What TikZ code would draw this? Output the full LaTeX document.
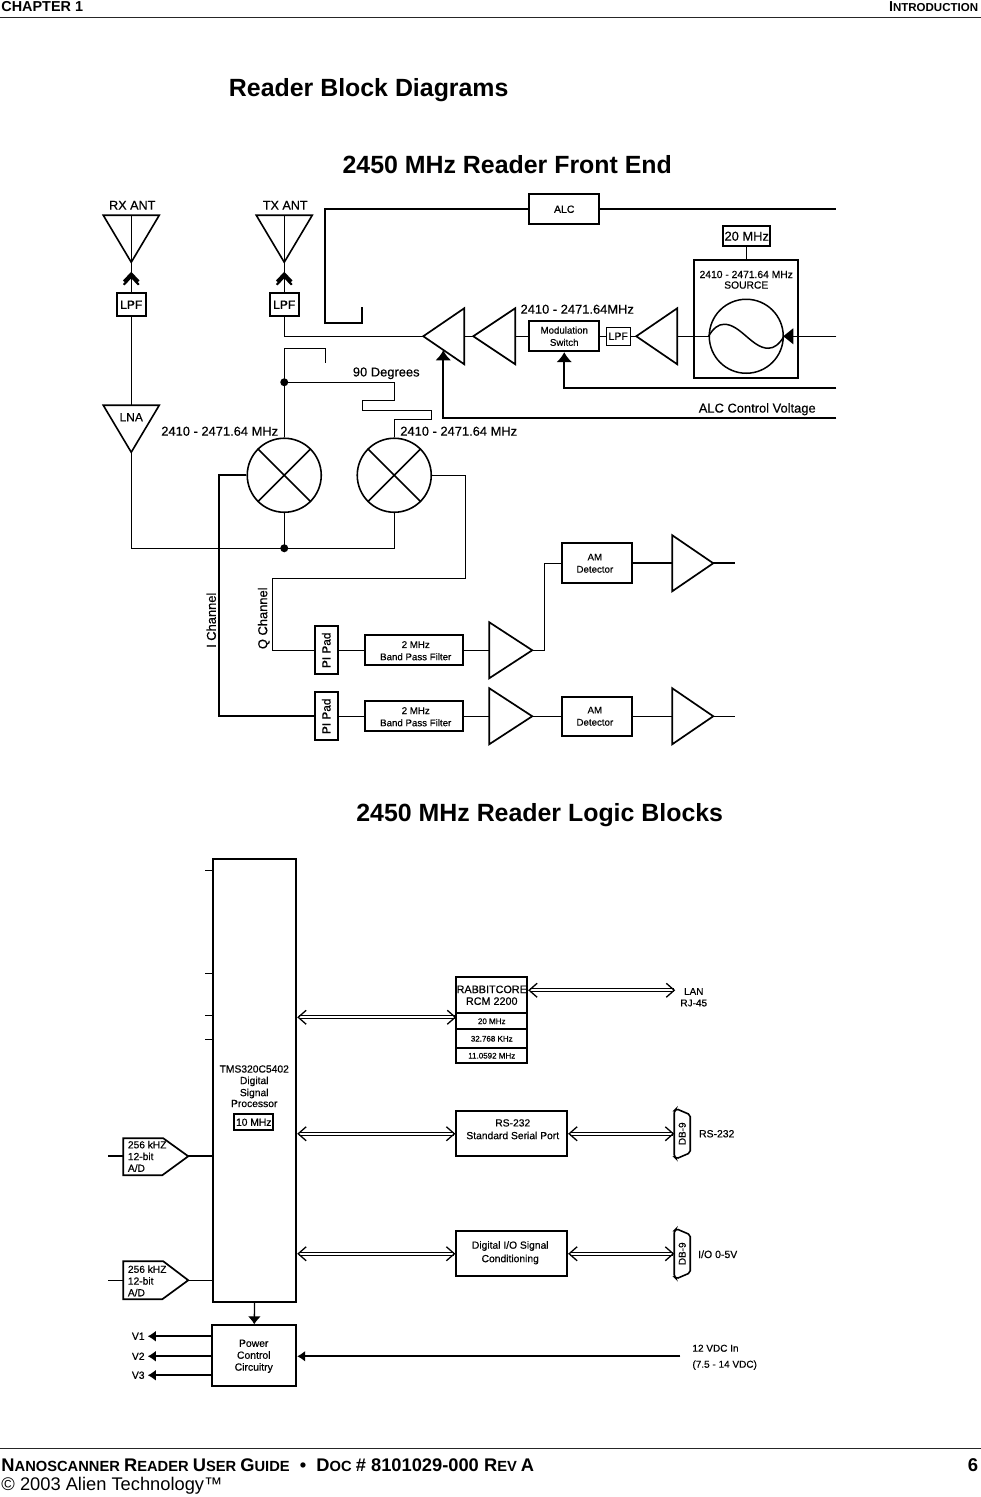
\documentclass[tikz,border=0pt]{standalone}
\usepackage{fontspec}
\setmainfont{Liberation Sans}
\newfontfamily\dg[FakeBold=0.5]{Liberation Sans}
\usetikzlibrary{arrows.meta,calc}
\newcommand{\fs}[1]{\fontsize{#1}{#1}\selectfont}
\tikzset{
  x=1pt,y=-1pt,
  ln/.style={line width=1.3pt,line join=miter},
  lnb/.style={line width=2.4pt,line join=miter},
  box/.style={draw,line width=1.8pt,inner sep=0pt,align=center,font=\dg\fs{9.7}},
  lab/.style={inner sep=0pt,align=center,font=\dg\fs{12.9}},
  sml/.style={inner sep=0pt,align=center,font=\dg\fs{10.3}},
  dot/.style={circle,fill=black,inner sep=0pt,minimum size=8pt},
  mix/.style={circle,draw,line width=1.6pt,inner sep=0pt,minimum size=74pt},
  fhead/.style={-{Latex[length=10pt,width=16pt]}},
  fheadsm/.style={-{Latex[length=8pt,width=11pt]}},
  dbl/.style={double,double distance=2pt,line width=1.1pt,{Straight Barb[length=8pt,width=14pt,line width=1.3pt]}-{Straight Barb[length=8pt,width=14pt,line width=1.3pt]}},
  title/.style={inner sep=0pt,font=\bfseries\fs{24.9}},
}
\newcommand{\ampL}[4]{\coordinate (#1t) at (#2,#3);\coordinate (#1b) at (#4,#3);
  \draw[line width=1.7pt,line join=miter] (#2,#3) -- (#4,#3-28) -- (#4,#3+28) -- cycle;}
\newcommand{\chev}[2]{\draw[line width=2.1pt] (#1-7.5,#2+6) -- (#1,#2-2) -- (#1+7.5,#2+6) (#1-7.5,#2+9.5) -- (#1,#2+1.5) -- (#1+7.5,#2+9.5);}
\newcommand{\dbnine}[3]{\draw[line width=1.6pt,rounded corners=2pt] (#2,#3-23) -- (#2+2,#3-25) -- (#2+16,#3-19) -- (#2+16,#3+19) -- (#2+2,#3+25) -- (#2,#3+23) -- cycle;
  \node[sml,rotate=90,font=\dg\fs{10}] (#1) at (#2+8,#3) {DB-9};\coordinate (#1w) at (#2,#3);}
\begin{document}
\begin{tikzpicture}
\useasboundingbox (0,0) rectangle (981,1497);
\begin{scope}[shift={(.25,.25)}]
% header / footer
\node[anchor=west,inner sep=0pt,font=\bfseries\fs{14.4}] (hl) at (1,6.5) {CHAPTER 1};
\node[anchor=east,inner sep=0pt,font=\bfseries\fs{14.4}] (hr) at (978,6.5) {I\fs{11.5}NTRODUCTION};
\draw[line width=1.2pt,black!85] (0,17) -- (981,17);
\draw[line width=1.2pt,black!85] (0,1448) -- (981,1448);
\node[anchor=west,inner sep=0pt,font=\bfseries\fs{18.3}] (fl) at (1,1465) {N\fs{14.7}ANOSCANNER \fs{18.3}R\fs{14.7}EADER \fs{18.3}U\fs{14.7}SER \fs{18.3}G\fs{14.7}UIDE\fs{18.3}\ \ •\ \ D\fs{14.7}OC \fs{18.3}\# 8101029-000 R\fs{14.7}EV \fs{18.3}A};
\node[anchor=east,inner sep=0pt,font=\bfseries\fs{18.5}] (fn) at (978,1465) {6};
\node[anchor=west,inner sep=0pt,font=\fs{18.3}] (fc) at (1,1485) {© 2003 Alien Technology™};
% titles
\node[title] (t1) at (368.5,90) {Reader Block Diagrams};
\node[title] (t2) at (507,164) {2450 MHz Reader Front End};
\node[title] (t3) at (539.5,815) {2450 MHz Reader Logic Blocks};

% ---- front end: antennas
\node[lab,font=\dg\fs{12.6}] (rxl) at (132,205) {RX ANT};
\node[lab,font=\dg\fs{12.6}] (txl) at (285,205) {TX ANT};
\draw[line width=1.6pt,line join=miter] (103,215) -- (159,215) -- (131,262) -- cycle;
\draw[line width=1.6pt,line join=miter] (256,215) -- (312,215) -- (284,262) -- cycle;
\coordinate (rxt) at (131,215);
\coordinate (txt) at (284,215);
\node[box,minimum width=29pt,minimum height=23pt,font=\dg\fs{12}] (lpf1) at (131,304.5) {LPF};
\node[box,minimum width=29pt,minimum height=23pt,font=\dg\fs{12}] (lpf2) at (284,304.5) {LPF};
\draw[ln] (rxt) -- (lpf1.north);
\draw[ln] (txt) -- (lpf2.north);
\chev{131}{275}
\chev{284}{275}
% LNA
\draw[line width=1.6pt,line join=miter] (103,405) -- (159,405) -- (131,452) -- cycle;
\coordinate (lnat) at (131,405); \coordinate (lnab) at (131,452);
\node[lab,font=\dg\fs{12}] (lnal) at (131,417) {LNA};
\draw[ln] (lpf1.south) -- (lnat);
% amplifiers
\ampL{a1}{423}{336}{464}
\ampL{a2}{473}{336}{515}
\ampL{a3}{636}{336}{677}
% boxes
\node[box,minimum width=70pt,minimum height=30pt,font=\dg\fs{10.5}] (alc) at (564,209) {ALC};
\node[box,minimum width=70pt,minimum height=30pt] (mod) at (564,336) {Modulation\\[2.5pt]Switch};
\node[box,minimum width=24pt,minimum height=18pt,line width=1.1pt,font=\dg\fs{10.5}] (lpf3) at (618,336) {LPF};
\node[box,minimum width=47pt,minimum height=20pt,font=\dg\fs{12.9}] (mhz) at (746.5,236) {20 MHz};
\node[box,minimum width=104pt,minimum height=118pt] (src) at (746,319) {};
\node[sml,font=\dg\fs{10.3}] (srcl) at (746,279.5) {2410 - 2471.64 MHz\\[.3pt]SOURCE};
\node[circle,draw,line width=1.5pt,inner sep=0pt,minimum size=74pt] (osc) at (746,336) {};
\draw[line width=1.5pt] (osc.west) .. controls (713,328) and (718,324) .. (724,324) .. controls (740,324) and (752,348) .. (768,348) .. controls (774,348) and (779,344) .. (osc.east);
\coordinate (r1) at (836,209); \coordinate (r2) at (836,336);
\coordinate (r3) at (836,388); \coordinate (r4) at (836,418);
\draw[lnb] (alc.east) -- (r1);
\draw[lnb] (alc.west) -- (325,209) -- (325,323) -- (362,323) -- (362,307);
\draw[ln] (mhz.south) -- (mhz.south |- src.north);
\draw[ln] (a3b) -- (osc.west);
\draw[ln] (lpf3.east) -- (a3t);
\draw[ln] (mod.east) -- (lpf3.west);
\draw[ln] (a2b) -- (mod.west);
\draw[ln] (a1b) -- (a2t);
\draw[ln] (lpf2.south) |- (a1t);
\draw[ln] (r2) -- (793,336);
\fill (783,336) -- (793,328) -- (793,344) -- cycle;
\draw[lnb,fhead] (r3) -| (mod.south);
\draw[lnb,fhead] (r4) -| (443,350);
\node[lab] at (577,309) {2410 - 2471.64MHz};
\node[lab] at (757,409) {ALC Control Voltage};
% mixers
\node[mix] (m1) at (284,475) {};
\node[mix] (m2) at (394,475) {};
\foreach \m in {m1,m2} \draw[line width=1.6pt] (\m.north west) -- (\m.south east) (\m.north east) -- (\m.south west);
\node[lab] at (219.5,431) {2410 - 2471.64 MHz};
\node[lab] at (458.5,431) {2410 - 2471.64 MHz};
\node[lab] at (386,373) {90 Degrees};
\node[dot] (d1) at (284,382) {};
\node[dot] (d2) at (284,548) {};
\draw[ln] (m1.north) -- (284,348) -- (325,348) -- (325,363);
\draw[ln] (d1.center) -- (394,382) -- (394,400) -- (362,400) -- (362,410) -- (431,410) -- (431,419) -- (394,419) -- (m2.north);
\draw[ln] (lnab) |- (d2.center) -- (394,548) -- (m2.south);
\draw[ln] (m1.south) -- (d2.center);
% lower chain
\node[box,minimum width=23pt,minimum height=48pt,font=\dg\fs{11.8}] (p1) at (326,650) {\rotatebox{90}{PI Pad}};
\node[box,minimum width=23pt,minimum height=48pt,font=\dg\fs{11.8}] (p2) at (326,716) {\rotatebox{90}{PI Pad}};
\node[box,minimum width=98pt,minimum height=30pt] (b1) at (414,650) {};
\node[sml,font=\dg\fs{9.7}] (b1l) at (415.5,650.5) {2 MHz\\[2.5pt]Band Pass Filter};
\node[box,minimum width=98pt,minimum height=30pt] (b2) at (414,716) {};
\node[sml,font=\dg\fs{9.7}] (b2l) at (415.5,716.5) {2 MHz\\[2.5pt]Band Pass Filter};
\ampL{u1}{532}{650}{489}
\ampL{u2}{532}{716}{489}
\node[box,minimum width=70pt,minimum height=40pt,line width=2.4pt] (am1) at (597,563) {};
\node[sml,font=\dg\fs{9.7}] (am1l) at (594.6,563) {AM\\[2.5pt]Detector};
\node[box,minimum width=70pt,minimum height=39pt] (am2) at (597,716) {};
\node[sml,font=\dg\fs{9.7}] (am2l) at (594.6,716) {AM\\[2.5pt]Detector};
\ampL{o1}{713}{563}{672}
\ampL{o2}{713}{716}{672}
\coordinate (e1) at (735,563); \coordinate (e2) at (735,716);
\draw[ln,line width=1.7pt] (m1.west) -- (219,475) |- (p2.west);
\draw[ln] (m2.east) -- (465,475) -- (465,578) -- (272,578) |- (p1.west);
\draw[ln] (p1.east) -- (b1.west);
\draw[ln] (p2.east) -- (b2.west);
\draw[ln] (b1.east) -- (u1b);
\draw[ln] (b2.east) -- (u2b);
\draw[ln] (u1t) -- (544,650) |- (am1.west);
\draw[ln] (u2t) -- (am2.west);
\draw[ln,line width=1.7pt] (am1.east) -- (o1b);
\draw[ln] (am2.east) -- (o2b);
\draw[lnb] (o1t) -- (e1);
\draw[ln] (o2t) -- (e2);
\node[lab,rotate=90] at (211,620) {I Channel};
\node[lab,rotate=90] at (263.5,618) {Q Channel};

% ---- logic
\node[box,minimum width=83.5pt,minimum height=443pt] (dsp) at (254.3,1080.5) {};
\foreach \y in {870,973,1015,1039} \draw[ln] (205,\y) -- (dsp.west |- 0,\y);
\node[sml] (dspl) at (254,1086) {TMS320C5402\\[1.2pt]Digital\\[1.8pt]Signal\\[.6pt]Processor};
\node[box,minimum width=39pt,minimum height=16pt,font=\dg\fs{10.3}] (ten) at (253.5,1122) {10 MHz};
% A/D
\draw[line width=1.7pt] (123,1138) -- (163,1138) -- (188,1156) -- (162,1175) -- (123,1175) -- cycle;
\draw[line width=1.7pt] (123,1261) -- (163,1261) -- (188,1280) -- (162,1299) -- (123,1299) -- cycle;
\node[sml,anchor=north west,align=left,font=\dg\fs{10.2}] (ad1) at (127.5,1140.5) {256 kHZ\\[1.5pt]12-bit\\[1.5pt]A/D};
\node[sml,anchor=north west,align=left,font=\dg\fs{10.2}] (ad2) at (127.5,1265) {256 kHZ\\[1.5pt]12-bit\\[1.5pt]A/D};
\coordinate (ad1i) at (108,1156); \coordinate (ad1t) at (123,1156); \coordinate (ad1o) at (188,1156);
\coordinate (ad2i) at (108,1280); \coordinate (ad2t) at (123,1280); \coordinate (ad2o) at (188,1280);
\draw[lnb] (ad1i) -- (ad1t);
\draw[lnb] (ad1o) -- (dsp.west |- ad1o);
\draw[ln] (ad2i) -- (ad2t);
\draw[ln] (ad2o) -- (dsp.west |- ad2o);
% power
\node[box,minimum width=84pt,minimum height=61pt] (pwr) at (254,1355.5) {};
\node[sml,font=\dg\fs{10.4}] at (253.5,1356) {Power\\[1.5pt]Control\\[1.5pt]Circuitry};
\draw[ln,-{Latex[length=8pt,width=13pt]}] (dsp.south) -- (pwr.north);
\node[sml] (v1) at (138,1336) {V1};
\node[sml] (v2) at (138,1356) {V2};
\node[sml] (v3) at (138,1375) {V3};
\draw[lnb,fheadsm,shorten >=3pt] (pwr.west |- v1) -- (v1.east);
\draw[lnb,fheadsm,shorten >=3pt] (pwr.west |- v2) -- (v2.east);
\draw[lnb,fheadsm,shorten >=3pt] (pwr.west |- v3) -- (v3.east);
\node[sml,anchor=west,align=left,font=\dg\fs{10}] (vdc) at (692,1357) {12 VDC In\\[6pt](7.5 - 14 VDC)};
\coordinate (vin) at (680,1356);
\draw[lnb,fheadsm] (vin) -- (pwr.east |- vin);
% rabbit
\node[box,minimum width=71pt,minimum height=36pt,font=\dg\fs{10.8}] (rb) at (491.5,995) {RABBITCORE\\[1pt]RCM 2200};
\node[box,minimum width=71pt,minimum height=16pt,font=\dg\fs{8}] (rb1) at (491.5,1021) {20 MHz};
\node[box,minimum width=71pt,minimum height=19pt,font=\dg\fs{8}] (rb2) at (491.5,1038.5) {32.768 KHz};
\node[box,minimum width=71pt,minimum height=15pt,font=\dg\fs{8}] (rb3) at (491.5,1055.5) {11.0592 MHz};
\coordinate (rbl) at (456,1017);
\draw[dbl] (dsp.east |- rbl) -- (rbl);
\node[sml,font=\dg\fs{10}] (lan) at (693.5,997) {LAN\\[1.5pt]RJ-45};
\coordinate (lanw) at (675,990);
\draw[dbl] (rb.east |- lanw) -- (lanw);
% RS-232
\node[box,minimum width=111pt,minimum height=45pt] (rs) at (511.5,1133.5) {};
\node[sml] (rsl1) at (512.5,1129) {RS-232\\[2.4pt]Standard Serial Port};
\dbnine{db1}{674}{1133.5}
\draw[dbl] (dsp.east |- rs.west) -- (rs.west);
\draw[dbl] (rs.east) -- (db1w);
\node[sml,font=\dg\fs{10.4}] (rsl) at (716.5,1133.5) {RS-232};
% digital
\node[box,minimum width=111pt,minimum height=45pt] (io) at (511.5,1253.5) {};
\node[sml] (iol1) at (510,1252.5) {Digital I/O Signal\\[3.2pt]Conditioning};
\dbnine{db2}{674}{1253.5}
\draw[dbl] (dsp.east |- io.west) -- (io.west);
\draw[dbl] (io.east) -- (db2w);
\node[sml,font=\dg\fs{10.5}] (iol) at (717.5,1254) {I/O 0-5V};
\end{scope}
\end{tikzpicture}
\end{document}
